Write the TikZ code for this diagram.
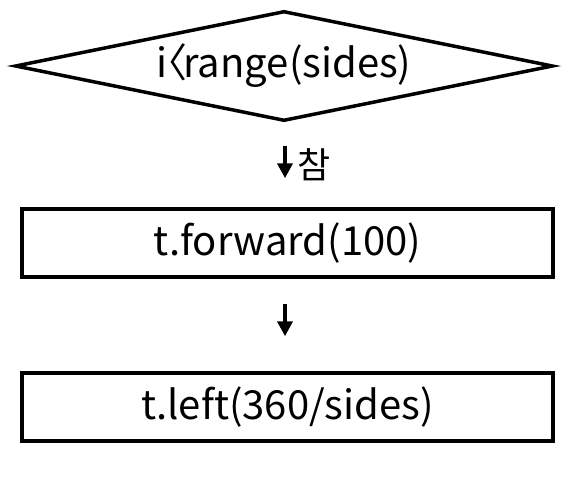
\documentclass[tikz,border=0pt]{standalone}
\usepackage{fontspec}
\newfontfamily\krfont{Noto Sans CJK KR}
\usetikzlibrary{positioning,arrows.meta,shapes.geometric}

\begin{document}
\begin{tikzpicture}[
  x=1pt, y=-1pt,
  box/.style={draw, line width=3.5pt, minimum width=531pt, minimum height=68pt, inner sep=0pt, font=\krfont\fontsize{40}{46}\selectfont},
  cond/.style={draw, diamond, shape aspect=4.9, line width=3.5pt, minimum width=538pt, minimum height=110pt, inner sep=0pt, font=\krfont\fontsize{40}{46}\selectfont},
  arr/.style={-{Triangle[width=15pt,length=15pt]}, line width=4.5pt}
]
\useasboundingbox (0,0) rectangle (568,496);
\node[cond] (loop) at (284,66) {i\kern-0.5em〈\kern-0.1em range(sides)};
\node[box] (fwd) at (287.5,243) {t.forward(100)};
\node[box] (turn) at (287.5,407) {t.left(360/sides)};

\draw[arr, shorten <=23pt, shorten >=29pt] (loop.south -| 285,0) -- (fwd.north -| 285,0)
  node[midway, right=7pt, font=\krfont\fontsize{36}{40}\selectfont] {참};
\draw[arr, shorten <=25pt, shorten >=35pt] (fwd.south -| 285,0) -- (turn.north -| 285,0);
\end{tikzpicture}
\end{document}
